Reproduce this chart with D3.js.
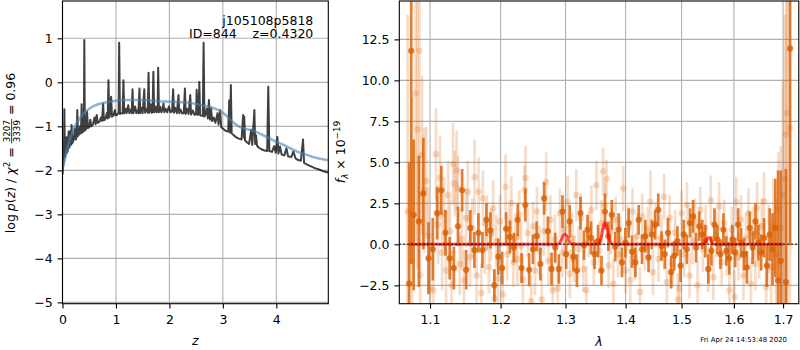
<!DOCTYPE html>
<html><head><meta charset="utf-8">
<script src="https://cdn.jsdelivr.net/npm/d3@7/dist/d3.min.js"></script>
<style>
html,body{margin:0;padding:0;background:#fff;}
svg{display:block;}
text{font-family:"DejaVu Sans","Liberation Sans",sans-serif;}
</style></head><body>
<svg id="chart" width="800" height="350"></svg>
<script>
// ---------------- data ----------------
const objName = "j105108p5818";
const objId = 844;
const zBest = "0.4320";
const chi2Num = "3207", chi2Den = "3339", chi2Ratio = "0.96";
const stamp = "Fri Apr 24 14:53:48 2020";

const zTicks = [0, 1, 2, 3, 4];
const pzTicks = [-5, -4, -3, -2, -1, 0, 1];
const lamTicks = [1.1, 1.2, 1.3, 1.4, 1.5, 1.6, 1.7];
const fluxTicks = [-2.5, 0, 2.5, 5, 7.5, 10, 12.5];

// [z, log p(z)]
const pzCurve = [
[0.000,-2.10],[0.012,-1.90],[0.025,-1.75],[0.035,-0.61],[0.045,-1.70],[0.06,-1.62],[0.075,-1.25],[0.085,-1.60],
[0.10,-1.55],[0.115,-1.12],[0.13,-1.48],[0.15,-1.10],[0.165,-1.42],[0.17,-0.97],[0.185,-1.38],[0.21,-1.30],
[0.23,-1.05],[0.25,-1.30],[0.265,-1.24],[0.277,-0.63],[0.29,-1.22],[0.31,-1.18],[0.33,-1.00],[0.345,-1.16],
[0.358,-0.50],[0.37,-1.14],[0.385,-1.12],[0.400,-1.05],[0.408,0.96],[0.418,-1.10],[0.44,-1.06],[0.46,-0.67],
[0.475,-1.04],[0.50,-1.02],[0.52,-0.85],[0.54,-1.00],[0.57,-0.96],[0.60,-0.80],[0.62,-0.95],[0.64,-0.74],
[0.66,-0.92],[0.69,-0.90],[0.72,-0.80],[0.74,-0.88],[0.76,-0.48],[0.775,-0.86],[0.80,-0.84],[0.83,-0.70],
[0.845,-0.82],[0.86,0.05],[0.875,-0.80],[0.89,-0.70],[0.91,-0.33],[0.925,-0.78],[0.95,-0.76],[0.98,-0.63],
[0.995,-0.75],[1.02,-0.74],[1.04,-0.70],[1.05,-0.70],[1.06,0.90],[1.075,-0.72],[1.10,-0.70],[1.125,-0.70],
[1.14,0.05],[1.155,-0.71],[1.18,-0.60],[1.20,-0.70],[1.23,-0.52],[1.25,-0.70],[1.28,-0.62],[1.295,-0.70],
[1.31,-0.16],[1.325,-0.70],[1.36,-0.55],[1.38,-0.70],[1.40,-0.64],[1.42,-0.70],[1.44,-0.14],[1.455,-0.70],
[1.48,-0.58],[1.50,-0.70],[1.53,-0.16],[1.545,-0.69],[1.57,-0.60],[1.595,-0.69],[1.61,0.22],[1.625,-0.69],
[1.65,-0.50],[1.67,-0.69],[1.685,-0.68],[1.70,0.24],[1.715,-0.68],[1.74,-0.55],[1.76,-0.68],[1.78,-0.66],
[1.79,0.33],[1.805,-0.68],[1.83,-0.56],[1.85,-0.68],[1.87,-0.62],[1.89,-0.48],[1.905,-0.68],[1.93,-0.60],
[1.96,-0.68],[1.99,-0.55],[2.02,-0.68],[2.05,-0.66],[2.07,-0.16],[2.085,-0.69],[2.11,-0.58],[2.14,-0.70],
[2.17,-0.29],[2.185,-0.70],[2.21,-0.62],[2.24,-0.71],[2.27,-0.70],[2.29,-0.14],[2.305,-0.72],[2.33,-0.60],
[2.36,-0.72],[2.39,-0.29],[2.405,-0.73],[2.44,-0.64],[2.47,-0.74],[2.50,-0.72],[2.51,-0.17],[2.53,-0.74],
[2.545,-0.72],[2.56,0.01],[2.575,-0.75],[2.60,-0.76],[2.625,-0.76],[2.64,0.90],[2.655,-0.78],[2.68,-0.72],
[2.70,-0.60],[2.72,-0.82],[2.74,-0.40],[2.76,-0.85],[2.78,-0.59],[2.80,-0.88],[2.83,-0.80],[2.86,-0.92],
[2.90,-0.70],[2.92,-0.96],[2.95,-0.63],[2.97,-1.02],[3.00,-1.05],[3.05,-1.10],[3.10,-1.12],[3.12,-0.41],
[3.135,-1.14],[3.15,-0.06],[3.165,-1.16],[3.20,-1.20],[3.25,-1.25],[3.30,-1.28],[3.35,-1.30],[3.38,-0.74],
[3.395,-1.26],[3.40,-0.78],[3.415,-1.32],[3.45,-1.36],[3.49,-1.40],[3.53,-1.08],[3.55,-1.42],[3.59,-0.63],
[3.605,-1.40],[3.62,-1.20],[3.64,-1.44],[3.67,-1.48],[3.72,-1.52],[3.78,-1.55],[3.83,-1.56],[3.85,-0.10],
[3.87,-1.56],[3.92,-1.58],[3.96,-1.45],[3.99,-1.60],[4.02,-1.24],[4.04,-1.62],[4.07,-1.46],[4.10,-1.64],
[4.15,-1.66],[4.19,-1.50],[4.22,-1.68],[4.28,-1.70],[4.32,-1.57],[4.36,-1.73],[4.40,-1.76],[4.46,-1.78],
[4.50,-1.30],[4.52,-1.83],[4.58,-1.87],[4.65,-1.91],[4.72,-1.95],[4.80,-1.98],[4.88,-2.02],[4.97,-2.05]
];

// smooth prior-like curve [z, log p]
const pzSmooth = [
[0,-1.97],[0.05,-1.72],[0.1,-1.45],[0.15,-1.25],[0.2,-1.08],[0.3,-0.86],[0.4,-0.70],[0.5,-0.60],
[0.6,-0.53],[0.8,-0.46],[1.0,-0.42],[1.2,-0.40],[1.4,-0.40],[1.6,-0.41],[1.8,-0.43],[2.0,-0.44],
[2.2,-0.45],[2.4,-0.47],[2.6,-0.52],[2.75,-0.56],[2.9,-0.62],[3.0,-0.69],[3.1,-0.80],[3.2,-0.92],
[3.3,-1.00],[3.4,-1.05],[3.5,-1.08],[3.6,-1.11],[3.7,-1.17],[3.8,-1.23],[3.9,-1.29],[4.0,-1.35],
[4.1,-1.40],[4.2,-1.46],[4.3,-1.52],[4.4,-1.58],[4.5,-1.62],[4.6,-1.66],[4.7,-1.70],[4.8,-1.73],[4.97,-1.77]
];

// [lambda (um), flux, err]  dark (primary) spectrum
const darkSpec = [
[1.0720,-2.4,7.4],[1.0748,11.8,13],[1.0780,1.8,4.6],[1.0850,1.4,4.0],[1.0910,3.1,3.4],
[1.0980,-0.85,2.2],[1.1038,-0.3,1.9],[1.1096,1.9,1.6],[1.1154,3.3,1.5],[1.1212,0.7,1.4],
[1.1270,-0.85,1.3],[1.1328,-1.45,1.3],[1.1386,1.1,1.2],[1.1444,3.3,1.3],[1.1502,-1.55,1.2],
[1.1560,1.0,1.1],[1.1618,-0.35,1.1],[1.1676,0.7,1.2],[1.1734,-0.35,1.1],[1.1792,1.5,1.0],
[1.1850,0.85,1.1],[1.1908,-2.5,1.0],[1.1966,-0.75,1.1],[1.2024,-1.45,1.0],[1.2082,0.95,1.0],
[1.2140,0.45,1.0],[1.2198,-0.2,0.9],[1.2256,1.5,1.0],[1.2314,-1.45,0.9],[1.2372,2.4,1.0],
[1.2430,-1.55,1.0],[1.2488,-0.3,0.9],[1.2546,0.5,0.9],[1.2604,-1.2,1.0],[1.2662,2.8,1.0],
[1.2720,0.8,0.9],[1.2778,-1.5,1.0],[1.2836,-0.2,0.9],[1.2894,-1.5,0.9],[1.2952,2.0,1.0],
[1.3010,-0.6,0.9],[1.3068,1.4,1.0],[1.3126,-0.75,0.9],[1.3184,-1.6,1.0],[1.3242,1.9,1.0],
[1.3300,-0.05,0.9],[1.3358,0.9,0.9],[1.3416,0.4,1.0],[1.3474,-0.6,0.9],[1.3532,0.2,1.0],
[1.3590,-1.6,0.9],[1.3648,2.0,1.1],[1.3706,0.5,0.9],[1.3764,1.8,0.9],[1.3822,-0.15,0.9],
[1.3880,0.9,1.0],[1.3938,-1.1,0.9],[1.3996,0.1,0.9],[1.4054,1.3,0.9],[1.4112,-0.45,1.0],
[1.4170,-1.1,0.9],[1.4228,1.5,0.9],[1.4286,-0.3,0.9],[1.4344,0.5,1.0],[1.4402,-0.8,0.9],
[1.4460,0.6,0.9],[1.4518,1.2,0.9],[1.4576,2.1,1.0],[1.4634,-0.1,0.9],[1.4692,-0.6,0.9],
[1.4750,0.7,0.9],[1.4808,-1.7,1.0],[1.4866,-0.7,0.9],[1.4924,0.2,0.9],[1.4982,-1.3,1.0],
[1.5040,0.6,0.9],[1.5098,-0.3,0.9],[1.5156,1.3,0.9],[1.5214,1.7,1.0],[1.5272,-0.2,0.9],
[1.5330,1.1,0.9],[1.5388,0.6,0.9],[1.5446,0.2,1.0],[1.5504,-1.5,0.9],[1.5562,-0.4,0.9],
[1.5620,1.2,1.0],[1.5678,0.3,0.9],[1.5736,-0.6,0.9],[1.5794,0.9,1.0],[1.5852,-0.4,0.9],
[1.5910,-0.85,1.0],[1.5968,0.3,0.9],[1.6026,-0.5,0.9],[1.6084,1.2,1.0],[1.6142,0.1,0.9],
[1.6200,-0.6,1.0],[1.6258,-1.4,1.0],[1.6316,1.0,1.0],[1.6374,-0.2,1.0],[1.6432,1.4,1.1],
[1.6490,0.1,1.1],[1.6548,-0.5,1.1],[1.6606,0.4,1.2],[1.6664,-1.3,1.3],[1.6722,0.6,1.6],
[1.6780,-0.3,2.2],[1.6838,1.0,3.0],[1.6896,-2.2,6.7],[1.6954,-1.0,5.5],[1.7060,-2.3,6.9],
[1.7147,11.95,12]
];

// [lambda (um), flux, err]  light (secondary) spectrum
const lightSpec = [
[1.0700,2.0,12],[1.0760,-1.0,10],[1.0806,9.2,9],[1.0830,7.0,8.5],[1.0856,11.8,9],
[1.0868,-1.87,5],[1.0892,5.45,4.85],[1.0920,3.3,3.8],[1.0949,3.86,3.3],[1.0975,0.5,3.0],
[1.1000,-2.68,2.8],[1.1045,-2.8,2.6],[1.1081,5.5,2.8],[1.1110,1.2,2.4],[1.1136,4.05,2.55],
[1.1165,-0.5,2.3],[1.1194,1.9,2.2],[1.1220,-1.6,2.2],[1.1249,3.0,2.1],[1.1275,0.8,2.0],
[1.1295,-2.5,2.1],[1.1317,4.9,2.5],[1.1340,3.7,2.0],[1.1367,4.5,2.45],[1.1385,3.4,2.0],
[1.1410,-1.2,1.9],[1.1440,0.3,1.9],[1.1470,-2.2,1.9],[1.1500,1.6,1.8],[1.1525,3.2,1.9],
[1.1555,-0.8,1.8],[1.1590,1.0,1.8],[1.1621,4.1,2.3],[1.1650,-1.9,1.7],[1.1678,3.2,2.1],
[1.1717,-2.96,1.8],[1.1741,2.8,1.7],[1.1770,-0.2,1.6],[1.1800,1.3,1.7],[1.1830,-1.4,1.6],
[1.1860,0.6,1.6],[1.1890,2.2,1.7],[1.1911,-3.3,1.7],[1.1935,0.2,1.6],[1.1960,-2.1,1.6],
[1.1990,1.4,1.6],[1.2034,-3.05,1.7],[1.2074,3.5,2.0],[1.2100,-0.6,1.6],[1.2130,0.9,1.5],
[1.2159,2.54,1.6],[1.2190,-1.1,1.5],[1.2220,0.4,1.5],[1.2250,-0.9,1.6],[1.2280,1.8,1.5],
[1.2310,-0.1,1.5],[1.2334,-2.18,1.6],[1.2360,3.31,1.5],[1.2375,4.05,1.95],[1.2410,0.7,1.5],
[1.2462,-3.47,1.6],[1.2490,1.1,1.5],[1.2520,-1.6,1.5],[1.2550,2.0,1.5],[1.2590,-0.4,1.5],
[1.2625,-3.36,1.6],[1.2660,0.8,1.5],[1.2693,3.8,1.8],[1.2730,-1.0,1.5],[1.2760,1.5,1.5],
[1.2797,-2.8,1.6],[1.2830,0.3,1.5],[1.2877,-2.7,1.6],[1.2910,1.9,1.5],[1.2950,-0.5,1.5],
[1.2990,0.9,1.5],[1.3033,2.6,1.6],[1.3070,-1.8,1.5],[1.3110,0.4,1.5],[1.3140,-0.9,1.4],
[1.3174,3.0,1.6],[1.3210,-0.3,1.4],[1.3250,1.6,1.5],[1.3290,-1.5,1.4],[1.3338,-2.8,1.5],
[1.3380,0.6,1.4],[1.3420,2.1,1.5],[1.3460,-1.1,1.4],[1.3505,3.6,1.5],[1.3550,-0.4,1.4],
[1.3590,1.3,1.4],[1.3617,4.45,1.45],[1.3650,2.4,1.4],[1.3673,4.0,1.15],[1.3710,-1.3,1.4],
[1.3750,0.8,1.4],[1.3790,-2.4,1.5],[1.3830,1.5,1.4],[1.3870,-0.6,1.4],[1.3910,0.3,1.4],
[1.3959,3.4,1.4],[1.4000,-1.6,1.4],[1.4040,1.0,1.4],[1.4080,-2.2,1.5],[1.4120,2.0,1.4],
[1.4160,-0.8,1.4],[1.4200,0.5,1.4],[1.4250,-2.9,1.5],[1.4290,1.7,1.4],[1.4340,-0.2,1.4],
[1.4390,0.9,1.4],[1.4435,2.6,1.9],[1.4480,-1.7,1.4],[1.4530,1.2,1.4],[1.4580,-0.9,1.4],
[1.4630,0.4,1.4],[1.4680,2.9,1.4],[1.4730,-2.3,1.5],[1.4780,1.6,1.4],[1.4830,-1.2,1.4],
[1.4880,0.7,1.4],[1.4931,-3.36,1.6],[1.4960,-2.7,1.5],[1.5000,1.9,1.4],[1.5050,-0.6,1.4],
[1.5100,2.4,1.4],[1.5150,-1.9,1.4],[1.5200,0.2,1.4],[1.5250,1.4,1.4],[1.5300,-2.5,1.5],
[1.5350,2.1,1.4],[1.5400,-0.3,1.4],[1.5450,1.0,1.4],[1.5500,-1.5,1.4],[1.5550,2.7,1.5],
[1.5600,-2.0,1.4],[1.5650,0.6,1.4],[1.5710,2.3,1.5],[1.5760,-1.1,1.4],[1.5810,1.3,1.4],
[1.5860,-0.5,1.4],[1.5911,-2.8,1.5],[1.5960,0.9,1.4],[1.6013,-3.2,1.6],[1.6046,2.6,1.5],
[1.6090,-0.8,1.4],[1.6140,1.5,1.5],[1.6190,-1.9,1.5],[1.6240,0.4,1.5],[1.6290,1.9,1.5],
[1.6340,-2.4,1.6],[1.6390,0.7,1.6],[1.6430,-1.2,1.6],[1.6465,2.2,1.6],[1.6510,-0.4,1.7],
[1.6560,1.1,1.7],[1.6607,2.6,1.8],[1.6650,-2.6,1.9],[1.6700,0.3,2.1],[1.6750,-1.4,2.4],
[1.6800,1.2,2.8],[1.6850,-0.6,3.4],[1.6900,2.1,3.5],[1.6950,1.0,5],[1.7000,3.0,7],
[1.7040,4.0,10],[1.7065,6.7,12],[1.7086,8.0,13],[1.7143,7.1,12]
];

// emission-line model
const modelLam = [1.072,1.286,1.290,1.293,1.296,1.299,1.302,1.305,1.308,1.312,
                  1.352,1.356,1.359,1.362,1.365,1.368,1.371,1.374,1.378,
                  1.538,1.542,1.545,1.548,1.551,1.554,1.557,1.560,1.564,1.700];
const modelFlux = [0,0,0.06,0.26,0.52,0.63,0.52,0.26,0.06,0,
                   0,0.12,0.50,1.08,1.32,1.08,0.50,0.12,0,
                   0,0.04,0.17,0.35,0.40,0.35,0.17,0.04,0,0];

// ---------------- drawing ----------------
const svg = d3.select("#chart");
const FS = 12.5;
const L = {x0:62.5, x1:328.3, y0:1, y1:303.7};
const R = {x0:399.3, x1:798.8, y0:1, y1:303.7};

const xz = d3.scaleLinear().domain([0, 4.973]).range([L.x0, L.x1]);
const yp = d3.scaleLinear().domain([-5.03, 1.848]).range([L.y1, L.y0]);
const xl = d3.scaleLog().domain([1.0591, 1.7333]).range([R.x0, R.x1]);
const yf = d3.scaleLinear().domain([-3.62, 14.84]).range([R.y1, R.y0]);

const uminus = s => String(s).replace("-", "\u2212");
const GRID = "#b0b0b0";

const defs = svg.append("defs");
[["clipL", L], ["clipR", R]].forEach(([id, b]) => {
  defs.append("clipPath").attr("id", id).append("rect")
    .attr("x", b.x0).attr("y", b.y0).attr("width", b.x1 - b.x0).attr("height", b.y1 - b.y0);
});

function drawGrid(b, xs, xv, ys, yv) {
  const g = svg.append("g").attr("stroke", GRID).attr("stroke-width", 1.1);
  xv.forEach(v => g.append("line").attr("x1", xs(v)).attr("x2", xs(v)).attr("y1", b.y0).attr("y2", b.y1));
  yv.forEach(v => g.append("line").attr("y1", ys(v)).attr("y2", ys(v)).attr("x1", b.x0).attr("x2", b.x1));
}

function drawAxes(b, xs, xv, xfmt, ys, yv, yfmt) {
  const ax = svg.append("g").attr("transform", `translate(0,${b.y1})`)
    .call(d3.axisBottom(xs).tickValues(xv).tickFormat(xfmt).tickSize(4.9).tickPadding(4.9));
  const ay = svg.append("g").attr("transform", `translate(${b.x0},0)`)
    .call(d3.axisLeft(ys).tickValues(yv).tickFormat(yfmt).tickSize(4.9).tickPadding(4.9));
  [ax, ay].forEach(a => {
    a.select(".domain").remove();
    a.selectAll(".tick line").attr("stroke", "#000").attr("stroke-width", 1.1);
    a.selectAll(".tick text").attr("fill", "#000").style("font-size", FS + "px")
      .style("font-family", '"DejaVu Sans", sans-serif');
  });
  ax.selectAll(".tick text").attr("dy", "0.82em");
  ay.selectAll(".tick text").attr("dy", "0.36em");
  svg.append("rect").attr("x", b.x0).attr("y", b.y0).attr("width", b.x1 - b.x0).attr("height", b.y1 - b.y0)
    .attr("fill", "none").attr("stroke", "#000").attr("stroke-width", 1.1);
}

// ---- left panel ----
drawGrid(L, xz, zTicks, yp, pzTicks);
const gl = svg.append("g").attr("clip-path", "url(#clipL)");
gl.append("path").datum(pzCurve)
  .attr("d", d3.line().x(d => xz(d[0])).y(d => yp(d[1])))
  .attr("fill", "none").attr("stroke", "#000").attr("stroke-opacity", 0.75)
  .attr("stroke-width", 2).attr("stroke-linejoin", "round");
gl.append("path").datum(pzSmooth)
  .attr("d", d3.line().curve(d3.curveMonotoneX).x(d => xz(d[0])).y(d => yp(d[1])))
  .attr("fill", "none").attr("stroke", "steelblue").attr("stroke-opacity", 0.6)
  .attr("stroke-width", 2.6);
drawAxes(L, xz, zTicks, d => String(d), yp, pzTicks, d => uminus(d));

svg.append("text").attr("x", 313.3).attr("y", 24.8).attr("text-anchor", "end")
  .style("font-size", FS + "px").text(objName);
svg.append("text").attr("x", 313.3).attr("y", 38.3).attr("text-anchor", "end")
  .style("font-size", FS + "px").style("white-space", "pre")
  .text(`ID=${objId}    z=${zBest}`);

// ---- right panel ----
drawGrid(R, xl, lamTicks, yf, fluxTicks);
const gr = svg.append("g").attr("clip-path", "url(#clipR)");
const ORANGE = "#d95f02";
function drawSpec(data, alpha, r) {
  const g = gr.append("g");
  g.selectAll("line").data(data).join("line")
    .attr("x1", d => xl(d[0])).attr("x2", d => xl(d[0]))
    .attr("y1", d => yf(d[1] - d[2])).attr("y2", d => yf(d[1] + d[2]))
    .attr("stroke", ORANGE).attr("stroke-opacity", alpha).attr("stroke-width", 2.7);
  g.selectAll("circle").data(data).join("circle")
    .attr("cx", d => xl(d[0])).attr("cy", d => yf(d[1])).attr("r", r)
    .attr("fill", ORANGE).attr("fill-opacity", alpha);
}
drawSpec(lightSpec, 0.22, 3.3);
drawSpec(darkSpec, 0.8, 3.1);

const model = modelLam.map((l, i) => [l, modelFlux[i]]);
gr.append("path").datum(model)
  .attr("d", d3.line().curve(d3.curveMonotoneX).x(d => xl(d[0])).y(d => yf(d[1])))
  .attr("fill", "none").attr("stroke", "#ff0000").attr("stroke-opacity", 0.7)
  .attr("stroke-width", 3).attr("stroke-linejoin", "round");
gr.append("line").attr("x1", R.x0).attr("x2", R.x1).attr("y1", yf(0)).attr("y2", yf(0))
  .attr("stroke", "#000").attr("stroke-opacity", 0.8).attr("stroke-width", 1.5)
  .attr("stroke-dasharray", "1.5,2.5");

drawAxes(R, xl, lamTicks, d3.format(".1f"), yf, fluxTicks, d => uminus(d3.format(".1f")(d)));

// ---- axis labels ----
function richLabel(parts, bx, cy) {
  const g = svg.append("g");
  let x = 0;
  parts.forEach(p => {
    if (p.frac) {
      const fs = FS * 0.7;
      const barY = -0.27 * FS;
      const tn = g.append("text").attr("x", x).attr("y", barY - 1.6).style("font-size", fs + "px").text(p.frac[0]);
      const td = g.append("text").attr("x", x).attr("y", barY + 1.6 + 0.729 * fs).style("font-size", fs + "px").text(p.frac[1]);
      const wn = tn.node().getComputedTextLength(), wd = td.node().getComputedTextLength();
      const w = Math.max(wn, wd) + 2;
      tn.attr("x", x + (w - wn) / 2);
      td.attr("x", x + (w - wd) / 2);
      g.append("line").attr("x1", x).attr("x2", x + w).attr("y1", barY).attr("y2", barY)
        .attr("stroke", "#000").attr("stroke-width", 0.8);
      x += w;
    } else {
      const fs = FS * (p.scale || 1);
      const t = g.append("text").attr("x", x).attr("y", (p.shift || 0) * FS)
        .style("font-size", fs + "px").style("white-space", "pre")
        .style("font-style", p.it ? "italic" : "normal").text(p.t);
      x += t.node().getComputedTextLength() + (p.after || 0);
    }
  });
  g.attr("transform", `translate(${bx},${cy + x / 2}) rotate(-90)`);
}

richLabel([
  {t: "log", after: 3}, {t: "p", it: true}, {t: "("}, {t: "z", it: true}, {t: ")"}, {t: " / "},
  {t: "\u03c7", it: true}, {t: "2", scale: 0.7, shift: -0.42}, {t: " = "},
  {frac: [chi2Num, chi2Den]}, {t: " = " + chi2Ratio}
], 15, 153);

richLabel([
  {t: "f", it: true}, {t: "\u03bb", it: true, scale: 0.7, shift: 0.2}, {t: " \u00d7 10"},
  {t: "\u221219", scale: 0.7, shift: -0.42}
], 345, 152);

svg.append("text").attr("x", (L.x0 + L.x1) / 2).attr("y", 345).attr("text-anchor", "middle")
  .style("font-size", FS + "px").style("font-style", "italic").text("z");
svg.append("text").attr("x", (R.x0 + R.x1) / 2).attr("y", 346).attr("text-anchor", "middle")
  .style("font-size", FS + "px").style("font-style", "italic").text("\u03bb");

svg.append("text").attr("x", 787).attr("y", 341.5).attr("text-anchor", "end")
  .style("font-size", "6.94px").text(stamp);
</script>
</body></html>
